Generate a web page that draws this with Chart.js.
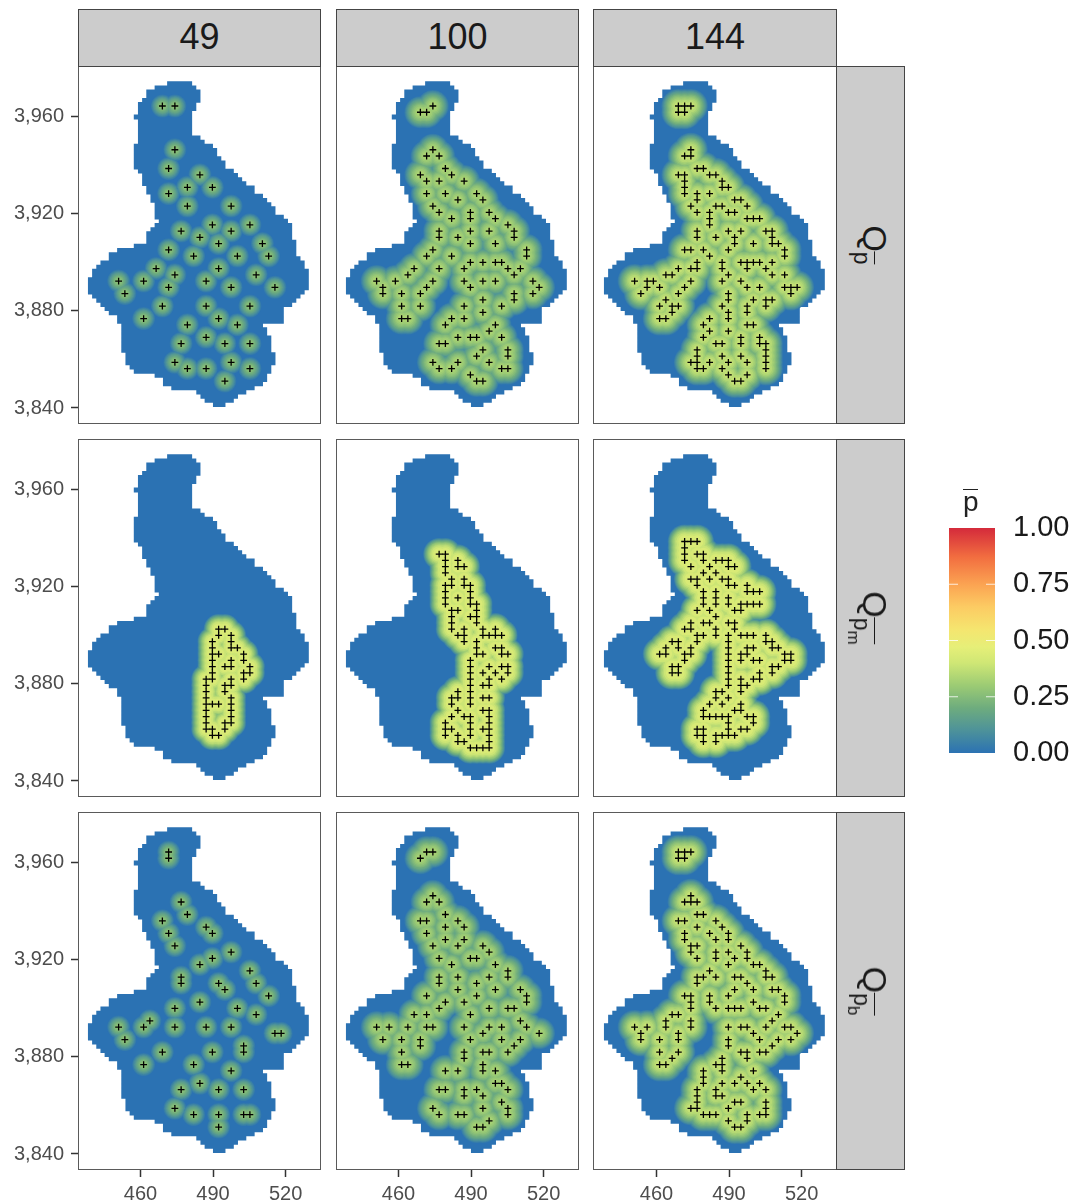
<!DOCTYPE html>
<html>
<head>
<meta charset="utf-8">
<script src="https://cdn.jsdelivr.net/npm/chart.js@4"></script>
<style>
  html, body { margin: 0; padding: 0; background: #fff; }
  body { position: relative; width: 1075px; height: 1201px; overflow: hidden; font-family: "Liberation Sans", Arial, sans-serif; }
  canvas { position: absolute; }
  .frame { position: absolute; box-sizing: border-box; border: 1.5px solid #5a5a5a; pointer-events: none; }
  .strip { position: absolute; box-sizing: border-box; background: #cccccc; border: 1.5px solid #444; color: #1a1a1a; }
  .strip-top { text-align: center; font-size: 36px; line-height: 54px; }
  .strip-label { position: absolute; white-space: nowrap; font-size: 34px; line-height: 40px; transform: translate(-50%, -50%) rotate(90deg); }
  .sub { font-size: 23px; position: relative; top: 9px; display: inline-block; line-height: 23px; }
  .sub-bar { border-top: 1.6px solid #1a1a1a; display: inline-block; line-height: 22px; padding-top: 1px; }
  .subsub { font-size: 17px; position: relative; top: 6px; }
  .legend-title { position: absolute; left: 963px; top: 489px; font-size: 28px; line-height: 24px; border-top: 1.6px solid #222; color: #222; }
</style>
</head>
<body>
<script>
// Facet labels
const sampleSizes = ["49", "100", "144"];
const xTickValues = [460, 490, 520];
const yTickValues = [3840, 3880, 3920, 3960];
const legendTicks = [0, 0.25, 0.5, 0.75, 1];

// Study area, one entry per raster row from north to south: first and last+1 raster column
const maskLeft = [19,16,14,14,13,12,12,12,11,12,12,12,12,12,12,11,11,11,11,11,11,12,13,13,13,14,14,15,15,16,16,16,16,17,16,15,14,14,14,11,7,5,5,3,2,1,1,0,0,0,0,1,2,3,4,5,7,7,8,8,8,8,8,8,8,9,9,9,10,11,16,18,18,20,26,27,28,30];
const maskRight = [25,26,27,27,27,26,26,25,25,25,25,25,25,27,28,30,31,31,32,33,33,35,36,37,38,40,40,42,43,44,45,45,47,48,49,49,49,49,50,50,50,50,51,52,52,53,53,53,53,53,52,51,50,49,47,47,47,47,42,43,43,44,44,44,44,45,45,45,44,44,43,43,42,40,38,36,35,33];

// Selected sites on the sampling lattice: [row, col, col, ...]
const sitesPbar49 = [[0,7,9],[7,9],[10,8],[11,13],[13,11,15],[14,8],[16,11,18],[19,15,21],[20,10,18],[21,13],[22,16,23],[23,8],[24,12,19,24],[26,6,16],[27,9,22],[28,0,4,14],[29,8,18,25],[30,1],[32,7,14,21],[34,4,16],[35,11,19],[37,14],[38,10,17,21],[41,9,18],[42,11,14,21],[44,17]];
const sitesPbar100 = [[0,9],[1,7,8],[7,9],[8,8,10],[10,11],[11,7,12],[12,8,10,14],[14,8,11,16],[15,13,17],[16,9],[17,10,15,18],[18,12,15,19],[19,21],[20,10,15,18,22],[21,10,13,22],[22,15,19],[23,9,24],[24,8,12,24],[25,15,17,19,20],[26,6,10,14,21,23],[27,5,22],[28,0,3,9,14,17,19,25],[29,1,8,15,26],[30,1,4,7,22,25],[31,17,22],[32,4,7,14,20],[33,17],[34,4,5,12,14],[35,11,19],[36,18],[37,13,15,16,20],[38,10,11],[39,17,21],[40,16,21],[41,9,13,18],[42,10,12,20,21],[43,15],[44,16,17]];
const sitesPbar144 = [[0,7,8,9],[1,7,8],[7,9],[8,8,9],[10,10,11],[11,7,8,12,13],[12,8,14],[13,8,14,15],[14,8,10,12],[15,10,16,17],[16,9,13,14,18],[17,10,12,15,16],[18,12,18,19,20],[19,12],[20,10,15,17,21,22],[21,10,13,16,22],[22,16,19,22,23],[23,8,9,11,15,24],[24,12,24],[25,10,14,17,18,19,20,22],[26,7,9,10,14,18,21],[27,5,6,15,22,24],[28,0,2,3,9,14,17],[29,2,4,8,18,20,24,25,26],[30,1,7,15,25],[31,5,15,19,21,22],[32,4,6,7,14,18,21],[33,6,15,18],[34,4,5,12,15],[35,11,18,19],[36,12,15],[37,11,17,20],[38,13,14,17,20,21],[39,10,21],[40,10,14,17,21],[41,9,10,12,15,18,21],[42,10,11,14,21],[43,15,18],[44,16,17]];
const sitesPm49 = [[24,16,17],[25,16,18],[26,15,18],[27,15,18,19],[28,15,16,20],[29,15,18,20],[30,15,17,18,21],[31,15,20,21],[32,14,15,18,20],[33,14,17,18],[34,14,17],[35,14,18],[36,14,15,16,18],[37,14,18],[38,14,18],[39,14,17,18],[40,14,15,17],[41,15,16]];
const sitesPm100 = [[12,10,11],[13,11,13],[14,11,13,14],[15,11],[16,12,14],[17,11,12,14,15],[18,11,15],[19,11,13,15],[20,11,15,16],[21,12,13,16],[22,12,15,16],[23,12,16],[24,12,14,17,19],[25,13,14,17,18,19,20],[26,14,16],[27,16,19,20],[28,16,17,20,21],[29,15],[30,15,18,20,21],[31,15,17,19,21],[32,15,18,20],[33,15,17,18],[34,13,15],[35,12,13,15,17,18],[36,12,15],[37,13,17,18],[38,12,14,15,18],[39,11,15,18],[40,11,12,15,17,18],[41,11,13,15,18],[42,13,14,18],[43,15,16,17,18]];
const sitesPm144 = [[10,8,9,10],[11,8],[12,8,10,11],[13,8,11,13,14,15],[14,9,12,15,16],[15,11,13],[16,9,10,12,14,15],[17,10,15,16,18],[18,11,13,18,19,20],[19,11,13,15],[20,11,13,15,17,18,19,20],[21,10,12,16,17],[22,13],[23,9,11,12,15,16],[24,8,9,13,16],[25,10,11,13,15,17,18,19,21],[26,6,7,10,15,21,22],[27,5,7,9,15,18,19,22,23],[28,4,5,8,9,15,17,18,24,25],[29,8,15,17,19,20,24,25],[30,6,7,15,22,23],[31,6,7,15,20,22],[32,15,17,19,20],[33,15,17,18],[34,13,14,17],[35,13,15],[36,12,14,17],[37,11,16,17],[38,11,12,13,14,15,18,19],[39,15,19],[40,10,11,15,17,18],[41,10,11,13,14,15,16],[42,11,13]];
const sitesPb49 = [[0,8],[1,8],[8,10],[10,11],[11,7],[12,14],[13,8,15],[15,9],[16,18],[17,15],[18,13],[19,21],[20,10],[21,10,16,22],[22,17],[23,24],[24,13],[25,9,19],[26,22],[27,5],[28,0,4,9,14,18],[29,25,26],[30,1],[31,20],[32,7,15,20],[34,4,12],[35,18],[37,13],[38,10,16,20],[41,9],[42,12,16,20,21],[44,16]];
const sitesPb100 = [[0,8,9],[1,7],[7,9],[8,8,10],[10,11],[11,7,8,13],[12,11,14],[13,8],[14,11,14],[15,9,13,17],[16,18],[17,10,15,16],[18,12,19],[19,21],[20,10,13,18,21],[21,10,16],[22,13,19,23],[23,8,16,24],[24,11,14,24],[25,10,18,21,22],[26,6,8,15],[27,23],[28,0,2,5,8,9,14,18,20,24],[29,17,26],[30,1,4,7,15,20,23],[31,7,22],[32,4,14,17,18,21],[33,14],[34,4,5,17],[35,11,13,17,19],[37,19,20],[38,10,11,14,16,21],[39,14,17],[40,20],[41,9,17,21],[42,10,13,14,21],[43,18],[44,16,17]];
const sitesPb144 = [[0,7,8,9],[1,7,8],[7,9],[8,8,9,10],[10,10,11],[11,7,8,13],[12,10,14],[13,8,12,15],[14,8,13,15],[15,9,10,17],[16,9,13,15,18],[17,10,13,16,18],[18,15,19,20],[19,12,21],[20,10,11,13,16,17,21,22],[21,10,18],[22,16,19,22,23],[23,8,9,12,15,24],[24,9,12,19,24],[25,9,13,15,16,17,20,21],[26,6,7,23],[27,5,9,22],[28,0,2,5,9,15,17,18,21,24,25],[29,1,7,19,26],[30,1,4,7,15,20,23,25],[31,15,22],[32,4,7,17,18,20,21],[33,6,14,18],[34,4,5,13,14],[35,11,14,19],[36,11,17],[37,11,14,16,18,20],[38,10,13,19,21],[39,10,13,14],[40,10,16,17,21],[41,9,10,15,21],[42,11,12,13,18,20,21],[43,15,18],[44,16,17]];

const panelSites = [
  [sitesPbar49, sitesPbar100, sitesPbar144],
  [sitesPm49, sitesPm100, sitesPm144],
  [sitesPb49, sitesPb100, sitesPb144],
];

// Raster and lattice origin and spacing in km
const CELL = { x0: 438.31, y0: 3973.71, dx: 1.7218, dy: -1.7182 };
const LATTICE = { x0: 450.98, y0: 3964.5, dx: 2.583, dy: -2.577 };
const X_RANGE = [434.2, 534.6];
const Y_RANGE = [3833.4, 3981];

// Page layout
const COL_LEFT = [78, 336, 594];
const ROW_TOP = [66, 439, 812];
const PANEL_W = 243;
const PANEL_H = 358;
const AXIS_W = 78;
const AXIS_H = 31;

// Look of the field around the sites, per panel
const glowPeak = [[0.27, 0.33, 0.38], [0.43, 0.43, 0.43], [0.27, 0.32, 0.38]];
const glowReach = [[11.5, 16, 17], [15, 16, 17], [11.5, 16, 17]];
const glowPower = [[1.6, 1.8, 1.8], [2.5, 2.5, 2.5], [1.6, 1.8, 1.8]];
const GLOW_STEPS = 12;

const colorStops = [
  [0, "#2b72b3"], [0.1, "#4d929a"], [0.2, "#6eac7e"], [0.3, "#9ccb74"], [0.4, "#cfe775"],
  [0.47, "#e6ef78"], [0.55, "#f5e56f"], [0.65, "#fccb63"], [0.75, "#fba352"], [0.87, "#f26e40"], [1, "#d42a3b"],
];

function hexToRgb(hex) {
  return [1, 3, 5].map((i) => parseInt(hex.slice(i, i + 2), 16));
}

function colorAt(value) {
  for (let i = 1; i < colorStops.length; i++) {
    const [v0, c0] = colorStops[i - 1];
    const [v1, c1] = colorStops[i];
    if (value <= v1) {
      const t = (value - v0) / (v1 - v0);
      const a = hexToRgb(c0);
      const b = hexToRgb(c1);
      return `rgb(${a.map((ch, k) => Math.round(ch + (b[k] - ch) * t)).join(",")})`;
    }
  }
  return colorStops[colorStops.length - 1][1];
}

function siteToPoints(rows) {
  const points = [];
  rows.forEach(([row, ...cols]) => {
    cols.forEach((col) => {
      points.push({ x: LATTICE.x0 + col * LATTICE.dx, y: LATTICE.y0 + row * LATTICE.dy });
    });
  });
  return points;
}

function maskToPoints() {
  const points = [];
  maskLeft.forEach((left, row) => {
    const y = CELL.y0 + row * CELL.dy;
    points.push({ x: CELL.x0 + left * CELL.dx, y });
    points.push({ x: CELL.x0 + maskRight[row] * CELL.dx, y });
    points.push({ x: NaN, y: NaN });
  });
  return points;
}

function buildDatasets(sites, peak, reach, power) {
  const points = siteToPoints(sites);
  const datasets = [{
    data: maskToPoints(),
    showLine: true,
    spanGaps: false,
    borderColor: colorStops[0][1],
    borderWidth: 4.8,
    borderCapStyle: "butt",
    pointRadius: 0,
    order: 100,
  }];
  // stacked discs, widest and darkest first, so each spot fades out to the background
  for (let k = 1; k <= GLOW_STEPS; k++) {
    datasets.push({
      data: points,
      pointStyle: "circle",
      pointRadius: reach * Math.pow(1 - (k - 1) / GLOW_STEPS, 1 / power),
      pointBorderWidth: 0,
      backgroundColor: colorAt((peak * k) / GLOW_STEPS),
      order: 50 - k,
    });
  }
  datasets.push({
    data: points,
    pointStyle: "cross",
    pointRadius: 3.4,
    pointBorderWidth: 1.3,
    pointBorderColor: "#000",
    order: 1,
  });
  return datasets;
}

function addBox(className, left, top, width, height, html) {
  const div = document.createElement("div");
  div.className = className;
  div.style.left = `${left}px`;
  div.style.top = `${top}px`;
  div.style.width = `${width}px`;
  div.style.height = `${height}px`;
  if (html) div.innerHTML = html;
  document.body.appendChild(div);
  return div;
}

// tick label overhang must not shrink the panel, all panels share one plot size
function clearScalePadding(scale) {
  scale.paddingTop = 0;
  scale.paddingBottom = 0;
  scale.paddingLeft = 0;
  scale.paddingRight = 0;
}

function buildPanel(row, col) {
  const hasY = col === 0;
  const hasX = row === 2;
  const left = COL_LEFT[col] - (hasY ? AXIS_W : 1);
  const top = ROW_TOP[row] - 1;
  const canvas = document.createElement("canvas");
  const width = PANEL_W + (hasY ? AXIS_W : 1) + 1;
  const height = PANEL_H + 1 + (hasX ? AXIS_H : 1);
  canvas.width = width;
  canvas.height = height;
  canvas.style.left = `${left}px`;
  canvas.style.top = `${top}px`;
  document.body.appendChild(canvas);

  return new Chart(canvas, {
    type: "scatter",
    data: { datasets: buildDatasets(panelSites[row][col], glowPeak[row][col], glowReach[row][col], glowPower[row][col]) },
    options: {
      responsive: false,
      animation: false,
      events: [],
      devicePixelRatio: 1,
      layout: { autoPadding: false, padding: { top: 1, right: 1, left: hasY ? 0 : 1, bottom: hasX ? 0 : 1 } },
      plugins: { legend: { display: false }, tooltip: { enabled: false } },
      scales: {
        x: {
          type: "linear",
          min: X_RANGE[0],
          max: X_RANGE[1],
          display: hasX,
          grid: { display: true, drawOnChartArea: false, drawTicks: true, tickLength: 7, tickWidth: 1.5, color: "#333" },
          border: { display: false },
          afterBuildTicks: (scale) => { scale.ticks = xTickValues.map((value) => ({ value })); },
          afterFit: (scale) => {
            clearScalePadding(scale);
            if (hasX) scale.height = AXIS_H;
          },
          ticks: {
            autoSkip: false,
            maxRotation: 0,
            padding: 5,
            color: "#4d4d4d",
            font: { family: "Liberation Sans", size: 20 },
            callback: (value) => String(value),
          },
        },
        y: {
          type: "linear",
          min: Y_RANGE[0],
          max: Y_RANGE[1],
          display: hasY,
          grid: { display: true, drawOnChartArea: false, drawTicks: true, tickLength: 7, tickWidth: 1.5, color: "#333" },
          border: { display: false },
          afterBuildTicks: (scale) => { scale.ticks = yTickValues.map((value) => ({ value })); },
          afterFit: (scale) => {
            clearScalePadding(scale);
            if (hasY) scale.width = AXIS_W;
          },
          ticks: {
            autoSkip: false,
            padding: 7,
            color: "#4d4d4d",
            font: { family: "Liberation Sans", size: 20 },
            callback: (value) => value.toLocaleString("en-US"),
          },
        },
      },
    },
  });
}

// white tick marks on both edges of the colour bar
const legendTickMarks = {
  id: "legendTickMarks",
  afterDatasetsDraw(chart) {
    const { ctx, chartArea, scales } = chart;
    ctx.save();
    ctx.strokeStyle = "rgba(255,255,255,0.8)";
    ctx.lineWidth = 1;
    legendTicks.slice(1, -1).forEach((value) => {
      const y = scales.y.getPixelForValue(value);
      ctx.beginPath();
      ctx.moveTo(chartArea.left, y);
      ctx.lineTo(chartArea.left + 9, y);
      ctx.moveTo(chartArea.right - 9, y);
      ctx.lineTo(chartArea.right, y);
      ctx.stroke();
    });
    ctx.restore();
  },
};

function buildLegend() {
  const canvas = document.createElement("canvas");
  canvas.width = 126;
  canvas.height = 276;
  canvas.style.left = "949px";
  canvas.style.top = "505px";
  document.body.appendChild(canvas);

  return new Chart(canvas, {
    type: "bar",
    data: {
      labels: ["p"],
      datasets: [{
        data: [[0, 1]],
        barPercentage: 1,
        categoryPercentage: 1,
        borderWidth: 0,
        backgroundColor: (context) => {
          const area = context.chart.chartArea;
          if (!area) return colorStops[0][1];
          const gradient = context.chart.ctx.createLinearGradient(0, area.bottom, 0, area.top);
          colorStops.forEach(([value, color]) => gradient.addColorStop(value, color));
          return gradient;
        },
      }],
    },
    plugins: [legendTickMarks],
    options: {
      responsive: false,
      animation: false,
      events: [],
      devicePixelRatio: 1,
      layout: { autoPadding: false, padding: { top: 23, bottom: 28, left: 0, right: 0 } },
      plugins: { legend: { display: false }, tooltip: { enabled: false } },
      scales: {
        x: { display: false },
        y: {
          position: "right",
          min: 0,
          max: 1,
          grid: { display: false, drawTicks: false },
          border: { display: false },
          afterBuildTicks: (scale) => { scale.ticks = legendTicks.map((value) => ({ value })); },
          afterFit: (scale) => {
            clearScalePadding(scale);
            scale.width = 80;
          },
          ticks: {
            padding: 18,
            color: "#1a1a1a",
            font: { family: "Liberation Sans", size: 29 },
            callback: (value) => value.toFixed(2),
          },
        },
      },
    },
  });
}

function buildStrips() {
  sampleSizes.forEach((label, col) => {
    addBox("strip strip-top", COL_LEFT[col] - (col === 2 ? 1 : 0), 9, PANEL_W + (col === 2 ? 1 : 0), 58, label);
  });
  const subs = ["", "m", "b"];
  ROW_TOP.forEach((top, row) => {
    addBox("strip", 836, top, 69, PANEL_H);
    const sub = subs[row] ? `<span class="subsub">${subs[row]}</span>` : "";
    const label = addBox("strip-label", 875, top + PANEL_H / 2, 0, 0, "");
    label.style.width = "auto";
    label.style.height = "auto";
    label.style.color = "#1a1a1a";
    label.innerHTML = `Q<span class="sub"><span class="sub-bar">p${sub}</span></span>`;
  });
}

function buildFrames() {
  ROW_TOP.forEach((top) => {
    COL_LEFT.forEach((left, col) => {
      addBox("frame", left - (col === 2 ? 1 : 0), top, PANEL_W + (col === 2 ? 1 : 0), PANEL_H);
    });
  });
}

ROW_TOP.forEach((_, row) => {
  COL_LEFT.forEach((__, col) => buildPanel(row, col));
});
buildFrames();
buildStrips();
buildLegend();
addBox("legend-title", 963, 489, 15, 24, "p").style.height = "auto";
</script>
</body>
</html>
